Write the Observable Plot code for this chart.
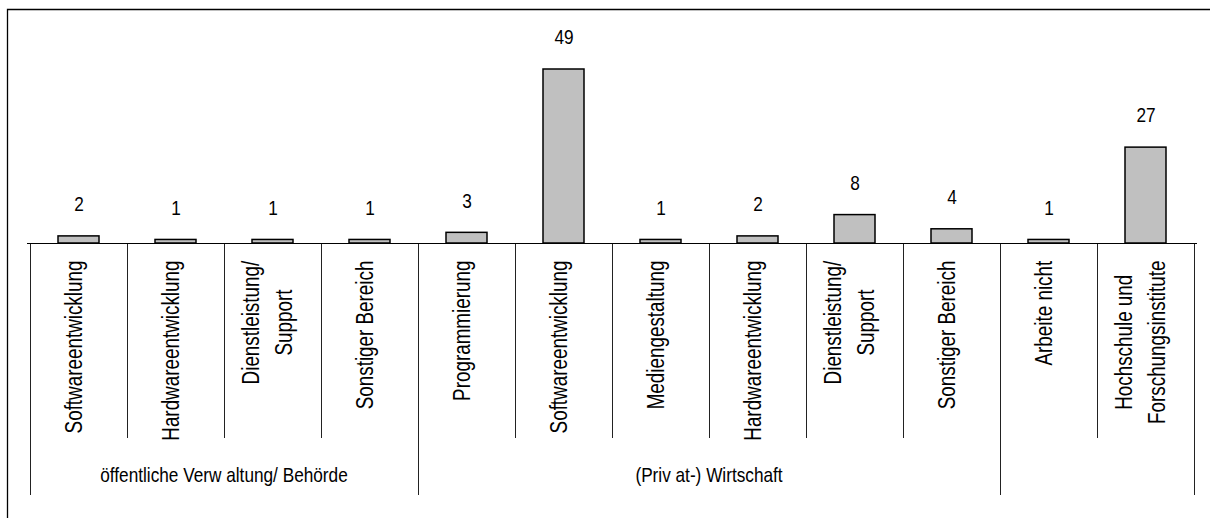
<!DOCTYPE html>
<html>
<head>
<meta charset="utf-8">
<script src="https://cdn.jsdelivr.net/npm/d3@7"></script>
<script src="https://cdn.jsdelivr.net/npm/@observablehq/plot@0.6"></script>
<style>
  html, body { margin: 0; padding: 0; background: #fff; }
  svg { display: block; }
</style>
</head>
<body>
<div id="chart"></div>
<script>
// ---- data ----
const categories = [
  "Softwareentwicklung",
  "Hardwareentwicklung",
  "Dienstleistung/\nSupport",
  "Sonstiger Bereich",
  "Programmierung",
  "Softwareentwicklung",
  "Mediengestaltung",
  "Hardwareentwicklung",
  "Dienstleistung/\nSupport",
  "Sonstiger Bereich",
  "Arbeite nicht",
  "Hochschule und\nForschungsinstitute"
];
const categoryGroup = [0, 0, 0, 0, 1, 1, 1, 1, 1, 1, 2, 2];
const groupNames = ["öffentliche Verw altung/ Behörde", "(Priv at-) Wirtschaft", ""];
const values = [2, 1, 1, 1, 3, 49, 1, 2, 8, 4, 1, 27];

const idx = d3.range(categories.length);
const FONT = "'Liberation Sans', Arial, sans-serif";
const NARROW = 0.82; // horizontal squeeze to imitate a narrow face

// frame, category separators and group labels, positioned with the plot's x scale
function structure(index, scales, vals, dims) {
  const x = scales.x;
  const bw = typeof x.bandwidth === "function" ? x.bandwidth() : (x(1) - x(0));
  const bounds = idx.map(i => x(i)).concat([x(idx.length - 1) + bw]);
  const baseY = dims.height - dims.marginBottom;
  const g = d3.create("svg:g");
  g.append("path")
    .attr("d", `M7.5,${dims.height + 5}V9.5H${dims.width + 5}`)
    .attr("fill", "none").attr("stroke", "#000").attr("stroke-width", 1.3);
  bounds.forEach((b, k) => {
    const isGroup = k === 0 || k === idx.length || categoryGroup[k] !== categoryGroup[k - 1];
    const xx = Math.round(b) + 0.5;
    g.append("line")
      .attr("x1", xx).attr("x2", xx)
      .attr("y1", baseY).attr("y2", baseY + (isGroup ? 252 : 195))
      .attr("stroke", "#222").attr("stroke-width", 1);
  });
  d3.groups(idx, i => categoryGroup[i]).forEach(([gi, members]) => {
    const cx = (bounds[members[0]] + bounds[members[members.length - 1] + 1]) / 2;
    g.append("text")
      .attr("transform", `translate(${cx},${baseY + 232})`)
      .attr("text-anchor", "middle").attr("dy", "0.35em")
      .attr("font-size", 21).attr("fill", "#000")
      .attr("font-family", FONT)
      .text(groupNames[gi]);
  });
  return g.node();
}

const chart = Plot.plot({
  width: 1210,
  height: 518,
  marginLeft: 27,
  marginRight: 13,
  marginTop: 69,
  marginBottom: 275,
  style: { fontFamily: FONT, background: "#fff", color: "#000" },
  x: { type: "band", domain: idx, padding: 0, axis: null },
  y: { domain: [0, 49], axis: null },
  marks: [
    structure,
    Plot.barY(idx, {
      x: d => d, y: d => values[d],
      insetLeft: 28, insetRight: 28,
      fill: "#c0c0c0", stroke: "#000", strokeWidth: 1.5
    }),
    Plot.ruleY([0], { stroke: "#000", strokeWidth: 1 }),
    Plot.text(idx, {
      x: d => d, y: d => values[d], text: d => String(values[d]),
      dy: -32, fontSize: 21, fill: "#000", lineAnchor: "middle"
    }),
    Plot.text(idx, {
      x: d => d, text: d => categories[d],
      frameAnchor: "bottom", dx: -8, dy: 17, rotate: -90,
      textAnchor: "middle", lineAnchor: "middle", lineHeight: 1.45,
      fontSize: 23, fill: "#000"
    })
  ]
});

document.getElementById("chart").append(chart);

// squeeze every text horizontally (narrow face look); rotated category labels are
// additionally shifted so that the top of each (centred, possibly two-line) block sits just below the axis
chart.querySelectorAll("text").forEach(t => {
  const tr = t.getAttribute("transform");
  if (tr && tr.includes("rotate")) {
    const w = t.getBBox().width * NARROW;
    t.setAttribute("transform", `${tr} translate(${-w / 2},0) scale(${NARROW},1)`);
  } else if (tr) {
    t.setAttribute("transform", `${tr} scale(${NARROW},1)`);
  } else {
    const x = +t.getAttribute("x") || 0, y = +t.getAttribute("y") || 0;
    t.removeAttribute("x"); t.removeAttribute("y");
    t.setAttribute("transform", `translate(${x},${y}) scale(${NARROW},1)`);
  }
});
</script>
</body>
</html>
